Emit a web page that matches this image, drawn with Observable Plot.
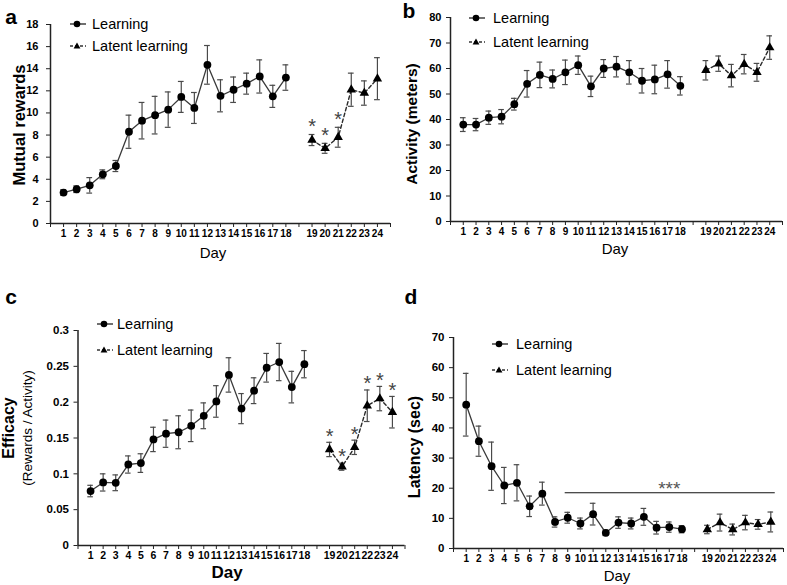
<!DOCTYPE html>
<html><head><meta charset="utf-8">
<script src="https://cdn.jsdelivr.net/npm/d3@7"></script>
<script src="https://cdn.jsdelivr.net/npm/@observablehq/plot@0.6"></script>
<style>
body{margin:0;background:#fff;font-family:"Liberation Sans",Arial,sans-serif;}
#fig{position:relative;width:787px;height:585px;overflow:hidden;background:#fff;}
.panel{position:absolute;}
.panel svg{overflow:visible;}
.lbl{position:absolute;white-space:nowrap;color:#000;line-height:1;}
</style></head><body><div id="fig"></div>
<script>
// ---------- data ----------
const learningDays = [1,2,3,4,5,6,7,8,9,10,11,12,13,14,15,16,17,18];
const latentDays = [19,20,21,22,23,24];
const lastLearningDay = 18; // one empty category slot follows it on the axis

// a: Mutual rewards
const rewardsLearnMean = [2.8,3.1,3.45,4.45,5.2,8.3,9.3,9.8,10.3,11.45,10.45,14.35,11.55,12.1,12.65,13.3,11.5,13.2];
const rewardsLearnErr  = [0.25,0.3,0.7,0.4,0.5,1.5,1.65,1.7,1.6,1.4,1.4,1.75,1.45,1.15,0.95,1.5,1.0,1.15];
const rewardsLatentMean = [7.55,6.8,7.8,12.1,11.8,13.1];
const rewardsLatentErr  = [0.5,0.45,0.9,1.5,1.1,1.9];
const rewardsStarDays = [19,20,21];
const rewardsTicks = [0,2,4,6,8,10,12,14,16,18];

// b: Activity (meters)
const activityLearnMean = [38.0,38.0,40.7,41.1,46.0,54.0,57.5,55.9,58.5,61.3,53.0,60.0,60.7,58.5,55.2,55.7,57.7,53.2];
const activityLearnErr  = [2.7,2.4,2.6,2.8,2.3,5.2,5.0,3.5,4.8,3.6,4.0,3.5,4.0,4.6,4.8,5.6,5.4,3.6];
const activityLatentMean = [59.3,61.9,57.2,61.7,58.5,68.2];
const activityLatentErr  = [3.8,3.0,4.4,3.8,3.5,4.6];
const activityStarDays = [];
const activityTicks = [0,10,20,30,40,50,60,70,80];

// c: Efficacy
const efficacyLearnMean = [0.076,0.088,0.0875,0.113,0.115,0.148,0.156,0.158,0.167,0.181,0.201,0.238,0.191,0.216,0.248,0.256,0.221,0.253];
const efficacyLearnErr  = [0.008,0.012,0.011,0.012,0.013,0.017,0.019,0.023,0.022,0.018,0.022,0.024,0.021,0.018,0.02,0.026,0.022,0.019];
const efficacyLatentMean = [0.134,0.110,0.137,0.195,0.205,0.186];
const efficacyLatentErr  = [0.01,0.005,0.01,0.022,0.017,0.022];
const efficacyStarDays = [19,20,21,22,23,24];
const efficacyTicks = [0,0.05,0.1,0.15,0.2,0.25,0.3];

// d: Latency (sec)
const latencyLearnMean = [47.7,35.6,27.3,20.9,21.8,14.0,18.2,8.8,10.2,8.3,11.4,5.2,8.6,8.3,10.5,6.9,7.1,6.4];
const latencyLearnErr  = [10.4,5.0,8.0,6.0,6.0,3.4,3.8,1.7,1.8,1.8,3.6,0.9,1.9,1.8,2.8,2.1,1.7,1.2];
const latencyLatentMean = [6.3,8.6,6.3,8.6,8.0,8.8];
const latencyLatentErr  = [1.4,2.8,1.8,2.4,1.6,3.3];
const latencyStarDays = [];
const latencyTicks = [0,10,20,30,40,50,60,70];
const latencySigFromDay = 9, latencySigToDay = 24, latencySigLevel = 18.5, latencySigText = "***";

const seriesNames = ["Learning", "Latent learning"];

// ---------- helpers ----------
const slot = d => d > lastLearningDay ? d + 1 : d;
const allDays = learningDays.concat(latentDays);
const slotToDay = new Map(allDays.map(d => [slot(d), d]));
const slotTicks = d3.range(0, slot(latentDays[latentDays.length-1]) + 2);
const rows = (days, mean, err) => days.map((d, i) => ({day: d, x: slot(d), m: mean[i], e: err[i]}));
const FONT = '"Liberation Sans", Arial, sans-serif';
const fig = document.getElementById("fig");

function panel(cfg) {
  const learn = rows(learningDays, cfg.lm, cfg.le);
  const latent = rows(latentDays, cfg.tm, cfg.te);
  const all = learn.concat(latent);
  const starred = latent.filter(r => cfg.stars.includes(r.day));
  const cap = 0.22;
  const marks = [
    Plot.ruleX(all, {x: "x", y1: r => r.m - r.e, y2: r => r.m + r.e, stroke: "#4a4a4a", strokeWidth: 1.2}),
    Plot.ruleY(all, {y: r => r.m + r.e, x1: r => r.x - cap, x2: r => r.x + cap, stroke: "#4a4a4a", strokeWidth: 1.2}),
    Plot.ruleY(all, {y: r => r.m - r.e, x1: r => r.x - cap, x2: r => r.x + cap, stroke: "#4a4a4a", strokeWidth: 1.2}),
    Plot.line(learn, {x: "x", y: "m", stroke: "#3a3a3a", strokeWidth: 1.3}),
    Plot.line(latent, {x: "x", y: "m", stroke: "#2a2a2a", strokeWidth: 1.4, strokeDasharray: "3.5,2.5"}),
    Plot.dot(learn, {x: "x", y: "m", r: 3.9, fill: "#000", symbol: "circle"}),
    Plot.dot(latent, {x: "x", y: "m", r: 3.5, fill: "#000", symbol: "triangle"}),
    Plot.text(starred, {x: "x", y: r => r.m + r.e, text: () => "*", dy: cfg.starDy, fill: "#444", fontSize: 20, fontWeight: "normal"}),
    Plot.ruleY([0], {stroke: "#222", strokeWidth: 1.5}),
    Plot.ruleX([0], {stroke: "#222", strokeWidth: 1.5}),
    Plot.axisY({ticks: cfg.ticks, tickSize: 4, tickPadding: cfg.tickPad, tickFormat: d => String(d), label: null, fontSize: cfg.yFont, fontWeight: "bold", stroke: "#222"}),
    Plot.axisX({ticks: slotTicks, tickSize: 4, tickFormat: () => "", label: null, stroke: "#222"}),
    Plot.axisX({ticks: allDays.map(slot), tickSize: 0, tickPadding: 6, tickFormat: s => String(slotToDay.get(s)), label: null, fontSize: cfg.xFont, fontWeight: "bold"})
  ];
  if (cfg.extra) marks.push(...cfg.extra);
  const svg = Plot.plot({
    width: cfg.width, height: cfg.height,
    marginLeft: cfg.ml, marginRight: cfg.mr, marginTop: cfg.mt, marginBottom: cfg.mb,
    x: {type: "linear", domain: [0, 26], axis: null},
    y: {domain: cfg.yDomain, axis: null},
    style: {fontFamily: FONT, background: "transparent", color: "#000"},
    marks
  });
  const div = document.createElement("div");
  div.className = "panel";
  div.style.left = cfg.left + "px"; div.style.top = cfg.top + "px";
  div.style.width = cfg.width + "px"; div.style.height = cfg.height + "px";
  div.appendChild(svg);
  fig.appendChild(div);
}

function label(text, cx, cy, css, rotate) {
  const el = document.createElement("div");
  el.className = "lbl";
  el.textContent = text;
  el.style.cssText += css;
  el.style.left = cx + "px"; el.style.top = cy + "px";
  el.style.transform = "translate(-50%,-50%)" + (rotate ? " rotate(-90deg)" : "");
  fig.appendChild(el);
}

function legend(lineX, textX, y1, y2) {
  const ns = "http://www.w3.org/2000/svg";
  [[y1, "circle", null, seriesNames[0]], [y2, "triangle", "3,2", seriesNames[1]]].forEach(([y, sym, dash, name]) => {
    const s = document.createElementNS(ns, "svg");
    s.setAttribute("width", 20); s.setAttribute("height", 12);
    s.style.cssText = `position:absolute;left:${lineX}px;top:${y - 6}px;overflow:visible`;
    const l = document.createElementNS(ns, "line");
    l.setAttribute("x1", 1); l.setAttribute("x2", 17); l.setAttribute("y1", 6); l.setAttribute("y2", 6);
    l.setAttribute("stroke", "#333"); l.setAttribute("stroke-width", 1.4);
    if (dash) l.setAttribute("stroke-dasharray", dash);
    s.appendChild(l);
    if (sym === "circle") {
      const c = document.createElementNS(ns, "circle");
      c.setAttribute("cx", 8); c.setAttribute("cy", 6); c.setAttribute("r", 3.3); c.setAttribute("fill", "#000");
      s.appendChild(c);
    } else {
      const p = document.createElementNS(ns, "path");
      p.setAttribute("d", "M8,2.6L11.4,8.6L4.6,8.6Z"); p.setAttribute("fill", "#000");
      s.appendChild(p);
    }
    fig.appendChild(s);
    const t = document.createElement("div");
    t.className = "lbl"; t.textContent = name;
    t.style.cssText += `left:${textX}px;top:${y}px;transform:translateY(-50%);font-size:14.5px;`;
    fig.appendChild(t);
  });
}

// ---------- panels ----------
panel({left: 0, top: 0, width: 395, height: 290, ml: 50, mr: 5, mt: 24, mb: 67,
  yDomain: [0, 18], ticks: rewardsTicks, tickPad: 8, yFont: 11, xFont: 10,
  lm: rewardsLearnMean, le: rewardsLearnErr, tm: rewardsLatentMean, te: rewardsLatentErr,
  stars: rewardsStarDays, starDy: -8});

panel({left: 400, top: 0, width: 387, height: 290, ml: 50, mr: 5, mt: 17, mb: 69,
  yDomain: [0, 80], ticks: activityTicks, tickPad: 5, yFont: 11, xFont: 10,
  lm: activityLearnMean, le: activityLearnErr, tm: activityLatentMean, te: activityLatentErr,
  stars: activityStarDays, starDy: -8});

panel({left: 0, top: 290, width: 410, height: 295, ml: 77.5, mr: 5.5, mt: 40, mb: 40,
  yDomain: [0, 0.3], ticks: efficacyTicks, tickPad: 5, yFont: 11.5, xFont: 10.5,
  lm: efficacyLearnMean, le: efficacyLearnErr, tm: efficacyLatentMean, te: efficacyLatentErr,
  stars: efficacyStarDays, starDy: -6});

panel({left: 400, top: 290, width: 387, height: 295, ml: 53, mr: 4, mt: 47, mb: 37,
  yDomain: [0, 70], ticks: latencyTicks, tickPad: 5, yFont: 11.5, xFont: 10,
  lm: latencyLearnMean, le: latencyLearnErr, tm: latencyLatentMean, te: latencyLatentErr,
  stars: latencyStarDays, starDy: -8,
  extra: [
    Plot.ruleY([latencySigLevel], {x1: slot(latencySigFromDay) - 0.2, x2: slot(latencySigToDay) + 0.35, stroke: "#111", strokeWidth: 1.2}),
    Plot.text([latencySigText], {x: (slot(latencySigFromDay) + slot(latencySigToDay)) / 2, y: latencySigLevel, text: d => d, dy: 2, fill: "#555", fontSize: 19, fontWeight: "normal", lineAnchor: "bottom"})
  ]});

// ---------- titles, letters, legends ----------
label("a", 11, 16, "font-size:21px;font-weight:bold;");
label("b", 409, 10, "font-size:21px;font-weight:bold;");
label("c", 11, 296, "font-size:21px;font-weight:bold;");
label("d", 411, 296, "font-size:21px;font-weight:bold;");

label("Mutual rewards", 19, 125, "font-size:16.5px;font-weight:bold;", true);
label("Activity (meters)", 412, 124, "font-size:15.5px;font-weight:bold;", true);
label("Efficacy", 9, 428, "font-size:16px;font-weight:bold;", true);
label("(Rewards / Activity)", 28, 428, "font-size:13.5px;", true);
label("Latency (sec)", 415, 447, "font-size:16px;font-weight:bold;", true);

label("Day", 213, 252, "font-size:15px;");
label("Day", 615, 248, "font-size:15px;");
label("Day", 227, 572, "font-size:17px;font-weight:bold;");
label("Day", 617, 575, "font-size:15px;");

legend(69, 92, 24, 46);
legend(468, 493, 18, 42);
legend(96, 117, 324, 350);
legend(491, 516, 344, 370);
</script></body></html>
